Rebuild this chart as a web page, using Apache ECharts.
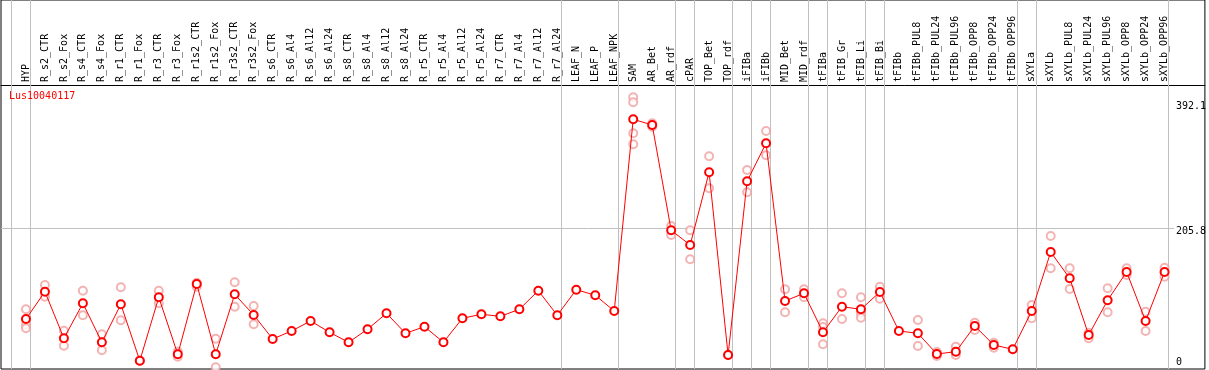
<!DOCTYPE html>
<html>
<head>
<meta charset="utf-8">
<script src="https://cdn.jsdelivr.net/npm/echarts@6/dist/echarts.min.js"></script>
<style>
html,body{margin:0;padding:0;background:#fff;}
#chart{width:1209px;height:370px;}
</style>
</head>
<body>
<div id="chart"></div>
<script>
const chartTitle = 'Lus10040117';
const categories = ['HYP','R_s2_CTR','R_s2_Fox','R_s4_CTR','R_s4_Fox','R_r1_CTR','R_r1_Fox','R_r3_CTR','R_r3_Fox','R_r1s2_CTR','R_r1s2_Fox','R_r3s2_CTR','R_r3s2_Fox','R_s6_CTR','R_s6_Al4','R_s6_Al12','R_s6_Al24','R_s8_CTR','R_s8_Al4','R_s8_Al12','R_s8_Al24','R_r5_CTR','R_r5_Al4','R_r5_Al12','R_r5_Al24','R_r7_CTR','R_r7_Al4','R_r7_Al12','R_r7_Al24','LEAF_N','LEAF_P','LEAF_NPK','SAM','AR_Bet','AR_rdf','cPAR','TOP_Bet','TOP_rdf','iFIBa','iFIBb','MID_Bet','MID_rdf','tFIBa','tFIB_Gr','tFIB_Li','tFIB_Bi','tFIBb','tFIBb_PUL8','tFIBb_PUL24','tFIBb_PUL96','tFIBb_OPP8','tFIBb_OPP24','tFIBb_OPP96','sXYLa','sXYLb','sXYLb_PUL8','sXYLb_PUL24','sXYLb_PUL96','sXYLb_OPP8','sXYLb_OPP24','sXYLb_OPP96'];
const meanValues = [71.4,111.9,42.8,94.7,36.9,93.2,9.6,103.6,19.1,123.3,19.1,108.0,77.4,41.8,53.7,68.5,51.7,36.9,56.2,79.9,50.2,60.0,36.9,72.5,78.4,75.4,85.8,113.4,76.9,114.9,106.6,83.3,367.4,359.0,202.9,181.1,288.9,18.1,275.5,331.9,98.1,109.5,51.7,89.7,85.8,111.5,53.7,50.2,19.6,23.0,61.1,32.9,26.5,83.3,170.7,131.8,47.7,99.2,141.1,68.5,141.1];
const rep1 = [85.8,121.8,54.1,113.4,48.8,118.4,9.6,113.4,23.0,125.2,42.2,125.8,90.7,null,null,null,null,null,null,null,null,null,null,null,null,null,null,null,null,null,null,null,400.0,361.5,209.3,202.9,312.6,18.1,292.3,350.1,115.5,115.5,65.1,109.5,103.6,119.3,null,70.0,16.6,30.4,66.0,36.3,null,92.2,194.5,146.6,51.1,116.9,146.6,82.3,147.5];
const rep2 = [62.5,104.5,31.9,76.9,25.0,69.5,9.6,94.7,15.6,119.3,0,89.7,63.6,null,null,null,null,null,null,null,null,null,null,null,null,null,null,null,null,null,null,null,392.6,356.5,195.9,159.9,265.2,18.1,259.2,314.1,81.4,103.6,59.6,71.4,79.9,101.5,null,31.4,22.6,18.1,55.1,28.9,null,72.5,146.6,115.9,42.8,81.4,136.7,53.7,134.1];
const rep3 = [57.7,null,null,null,null,null,null,null,null,null,null,null,null,null,null,null,null,null,null,null,null,null,null,null,null,null,null,null,null,null,null,null,346.7,null,null,null,null,null,null,null,null,null,33.9,null,73.4,null,null,null,null,null,null,null,null,null,null,null,null,null,null,null,null];
const rep4 = [null,null,null,null,null,null,null,null,null,null,null,null,null,null,null,null,null,null,null,null,null,null,null,null,null,null,null,null,null,null,null,null,330.4,null,null,null,null,null,null,null,null,null,null,null,null,null,null,null,null,null,null,null,null,null,null,null,null,null,null,null,null];
const yTickLabels = [0, 205.8, 392.1];
const gridLineValue = 205.8;
const separatorsAfter = [-1, 0, 28, 31, 34, 35, 37, 38, 39, 41, 42, 44, 45, 52, 53, 60];

const FONT = 'DejaVu Sans Mono';
const X_MIN = -1.315, X_MAX = 62.125;
const Y_MIN = -2.67, Y_MAX = 544.2;

const repPoints = [];
[rep1, rep2, rep3, rep4].forEach(arr => arr.forEach((v, i) => { if (v !== null) repPoints.push([i, v]); }));

const chart = echarts.init(document.getElementById('chart'), null, {renderer: 'canvas'});
chart.setOption({
  animation: false,
  backgroundColor: '#fff',
  title: {
    text: chartTitle, left: 4, top: 86,
    textStyle: {color: '#ff0000', fontSize: 10, fontFamily: FONT, fontWeight: 'normal'}
  },
  grid: {left: 1, right: 2, top: 0, bottom: 1, show: true, borderColor: '#000', borderWidth: 1, backgroundColor: 'transparent'},
  xAxis: {
    type: 'value', min: X_MIN, max: X_MAX, position: 'top', offset: -85,
    axisLine: {show: true, onZero: false, lineStyle: {color: '#000', width: 1}},
    axisTick: {show: false},
    splitLine: {show: false},
    axisLabel: {
      customValues: categories.map((_, i) => i),
      rotate: -90, margin: 3, fontSize: 10, fontFamily: FONT, color: '#000',
      formatter: v => categories[Math.round(v)] || ''
    }
  },
  yAxis: {
    type: 'value', min: Y_MIN, max: Y_MAX, position: 'right',
    axisLine: {show: false, onZero: false}, axisTick: {show: false}, splitLine: {show: false},
    axisLabel: {
      customValues: yTickLabels, inside: true, align: 'left', margin: 29,
      fontSize: 10, fontFamily: FONT, color: '#000',
      formatter: v => v === 0 ? '{z|0}' : '{a|' + v + '}',
      rich: {
        a: {fontSize: 10, fontFamily: FONT, color: '#000', padding: [7, 0, 0, 0]},
        z: {fontSize: 10, fontFamily: FONT, color: '#000', padding: [0, 0, 10, 0]}
      }
    }
  },
  series: [
    {
      type: 'scatter', data: repPoints, symbol: 'emptyCircle', symbolSize: 8,
      itemStyle: {color: '#f0a0a0', borderColor: '#f0a0a0', borderWidth: 1},
      silent: true, z: 2
    },
    {
      type: 'line', data: meanValues.map((v, i) => [i, v]),
      symbol: 'emptyCircle', symbolSize: 8,
      lineStyle: {color: '#ff0000', width: 1},
      itemStyle: {color: '#ff0000', borderColor: '#ff0000', borderWidth: 1.1},
      z: 3, silent: true,
      markLine: {
        silent: true, symbol: 'none', label: {show: false}, z: 1,
        lineStyle: {color: '#c0c0c0', width: 1, type: 'solid'},
        emphasis: {disabled: true},
        data: separatorsAfter.map(i => ({xAxis: i + 0.22})).concat([[
          {coord: [X_MIN, gridLineValue]}, {coord: [60.5, gridLineValue]}
        ]])
      }
    }
  ]
});
</script>
</body>
</html>
